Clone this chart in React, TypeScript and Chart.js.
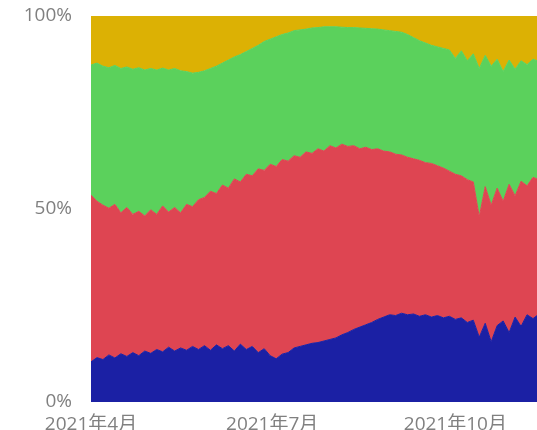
import React, { useEffect, useRef } from "react";
import { Chart, registerables } from "chart.js";

Chart.register(...registerables);

const dates = [
  "2021-04-01", "2021-04-04", "2021-04-07", "2021-04-10", "2021-04-13", "2021-04-16", "2021-04-19", "2021-04-22", "2021-04-25", "2021-04-28",
  "2021-05-01", "2021-05-04", "2021-05-07", "2021-05-10", "2021-05-13", "2021-05-16", "2021-05-19", "2021-05-22", "2021-05-25", "2021-05-28", "2021-05-31",
  "2021-06-03", "2021-06-06", "2021-06-09", "2021-06-12", "2021-06-15", "2021-06-18", "2021-06-21", "2021-06-24", "2021-06-27", "2021-06-30",
  "2021-07-03", "2021-07-06", "2021-07-09", "2021-07-12", "2021-07-15", "2021-07-18", "2021-07-21", "2021-07-24", "2021-07-27", "2021-07-30",
  "2021-08-02", "2021-08-05", "2021-08-08", "2021-08-11", "2021-08-14", "2021-08-17", "2021-08-20", "2021-08-23", "2021-08-26", "2021-08-29",
  "2021-09-01", "2021-09-04", "2021-09-07", "2021-09-10", "2021-09-13", "2021-09-16", "2021-09-19", "2021-09-22", "2021-09-25", "2021-09-28",
  "2021-10-01", "2021-10-04", "2021-10-07", "2021-10-10", "2021-10-13", "2021-10-16", "2021-10-19", "2021-10-22", "2021-10-25", "2021-10-28", "2021-10-31",
  "2021-11-03", "2021-11-06", "2021-11-09", "2021-11-12",
];

// cumulative share boundaries (%)
const blueTop = [
  10.4, 11.5, 11.0, 12.2, 11.4, 12.5, 11.8, 12.8, 12.0, 13.2,
  12.6, 13.6, 13.0, 14.2, 13.2, 14.0, 13.4, 14.4, 13.6, 14.6, 13.4,
  14.8, 13.8, 14.6, 13.2, 15.0, 13.6, 14.4, 12.8, 13.8, 12.0,
  11.2, 12.4, 12.8, 14.0, 14.4, 14.8, 15.2, 15.4, 15.8, 16.2,
  16.6, 17.4, 18.0, 18.8, 19.4, 20.0, 20.6, 21.4, 22.0, 22.6,
  22.4, 23.0, 22.6, 22.8, 22.2, 22.6, 22.0, 22.4, 21.8, 22.2,
  21.4, 21.8, 20.6, 21.2, 16.8, 20.4, 15.6, 19.8, 21.0, 18.0, 22.0,
  19.6, 22.6, 21.6, 22.8,
];
const redTop = [
  53.6, 52.0, 51.0, 50.2, 51.2, 49.0, 50.4, 48.6, 49.4, 48.2,
  49.8, 48.6, 50.8, 49.2, 50.4, 49.0, 51.2, 50.6, 52.4, 53.0, 54.6,
  54.0, 56.2, 55.4, 57.8, 57.0, 59.0, 58.6, 60.4, 60.0, 61.6,
  61.0, 62.8, 62.4, 63.8, 63.4, 64.8, 64.4, 65.6, 65.0, 66.4,
  65.8, 66.8, 66.2, 66.4, 65.6, 66.0, 65.4, 65.6, 65.0, 64.8,
  64.2, 64.0, 63.4, 63.0, 62.6, 62.0, 61.8, 61.2, 60.6, 59.8,
  59.0, 58.6, 57.6, 57.0, 48.0, 55.8, 51.0, 55.4, 52.0, 56.4, 53.4,
  57.2, 56.0, 58.2, 57.6,
];
const greenTop = [
  87.3, 87.8, 87.0, 86.6, 87.2, 86.4, 86.8, 86.2, 86.6, 86.0,
  86.4, 86.0, 86.5, 86.0, 86.4, 85.8, 85.6, 85.2, 85.4, 85.8, 86.4,
  87.0, 87.8, 88.6, 89.4, 90.0, 90.8, 91.6, 92.4, 93.4, 94.0,
  94.6, 95.2, 95.6, 96.2, 96.4, 96.6, 96.9, 97.0, 97.2, 97.2,
  97.2, 97.1, 97.0, 97.0, 96.9, 96.8, 96.7, 96.6, 96.4, 96.2,
  96.0, 95.8, 95.2, 94.4, 93.6, 93.0, 92.4, 92.0, 91.6, 91.2,
  89.0, 91.0, 88.4, 90.2, 86.4, 89.8, 87.0, 88.8, 85.6, 88.6, 86.2,
  88.4, 87.4, 88.8, 88.2,
];

const tickDates = ["2021-04-01", "2021-07-01", "2021-10-01"];
const tickLabels = ["2021年4月", "2021年7月", "2021年10月"];
const yTickValues = [0, 50, 100];

const COLORS = {
  blue: "#1b20a4",
  red: "#de4552",
  green: "#5bd15c",
  yellow: "#dcb104",
};

const START = Date.UTC(2021, 3, 1);
const dayOf = (s: string) => {
  const [y, m, d] = s.split("-").map(Number);
  return Math.round((Date.UTC(y, m - 1, d) - START) / 86400000);
};

const FONT = { family: "'Open Sans', 'Noto Sans CJK SC', sans-serif", size: 19 };

export default function App() {
  const ref = useRef<HTMLCanvasElement | null>(null);

  useEffect(() => {
    if (!ref.current) return;
    const xs = dates.map(dayOf);
    const pts = (arr: number[]) => arr.map((v, i) => ({ x: xs[i], y: v }));
    const tickDays = tickDates.map(dayOf);

    const common = { pointRadius: 0, borderWidth: 1, tension: 0 };
    const chart = new Chart(ref.current, {
      type: "line",
      data: {
        datasets: [
          { ...common, label: "A", data: pts(blueTop), borderColor: COLORS.blue, backgroundColor: COLORS.blue, fill: "origin" },
          { ...common, label: "B", data: pts(redTop), borderColor: COLORS.red, backgroundColor: COLORS.red, fill: "-1" },
          { ...common, label: "C", data: pts(greenTop), borderColor: COLORS.green, backgroundColor: COLORS.green, fill: "-1" },
          { ...common, label: "D", data: pts(greenTop), borderColor: COLORS.green, backgroundColor: COLORS.yellow, borderWidth: 0, fill: "end" },
        ],
      },
      options: {
        animation: false,
        responsive: false,
        layout: { padding: { top: 16, left: 0, right: 0, bottom: 0 } },
        plugins: { legend: { display: false }, tooltip: { enabled: false } },
        scales: {
          x: {
            type: "linear",
            min: 0,
            max: 224,
            grid: { display: false, drawTicks: false },
            border: { display: false },
            afterBuildTicks: (s: any) => {
              s.ticks = tickDays.map((v) => ({ value: v }));
            },
            afterFit: (s: any) => {
              s.height = 28;
              s.paddingLeft = 0;
              s.paddingRight = 0;
            },
            ticks: {
              autoSkip: false,
              maxRotation: 0,
              padding: 11,
              color: "#808080",
              font: FONT,
              callback: (v: any) => {
                const i = tickDays.indexOf(Number(v));
                return i >= 0 ? tickLabels[i] : "";
              },
            },
          },
          y: {
            min: 0,
            max: 100,
            grid: { display: false, drawTicks: false },
            border: { display: false },
            afterBuildTicks: (s: any) => {
              s.ticks = yTickValues.map((v) => ({ value: v }));
            },
            afterFit: (s: any) => {
              s.width = 91;
              s.paddingTop = 0;
              s.paddingBottom = 0;
            },
            ticks: {
              padding: 19,
              color: "#808080",
              font: FONT,
              callback: (v: any) => v + "%",
            },
          },
        },
      },
    } as any);
    return () => chart.destroy();
  }, []);

  return (
    <div style={{ position: "fixed", left: 0, top: 0, width: 537, height: 430, background: "#fff" }}>
      <canvas ref={ref} width={537} height={430} style={{ display: "block" }} />
    </div>
  );
}
